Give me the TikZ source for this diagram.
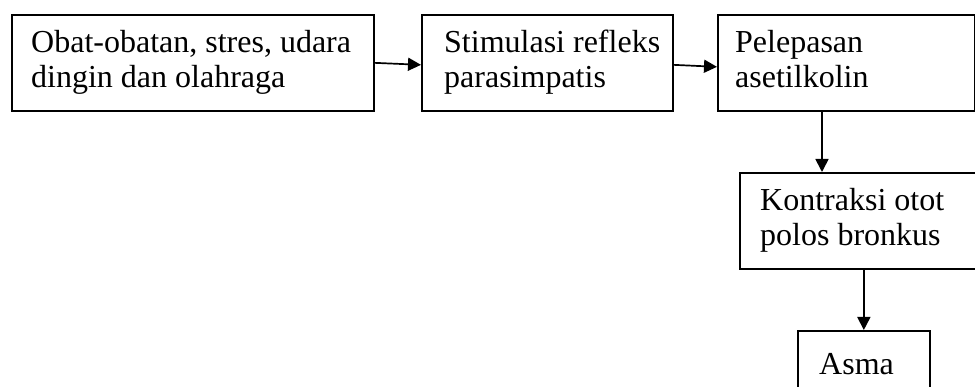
\documentclass[tikz,border=0pt]{standalone}
\usepackage{fontspec}
\setmainfont{Liberation Serif}
\usetikzlibrary{arrows.meta}
\begin{document}
\begin{tikzpicture}[x=1pt,y=-1pt,
  box/.style={draw=black, line width=1.7pt, rectangle, inner sep=0pt, anchor=north west},
  lbl/.style={anchor=base west, inner sep=0pt, font=\fontsize{32pt}{35pt}\selectfont},
  arr/.style={line width=1.7pt, -{Triangle[length=13pt,width=13pt]}}]
\useasboundingbox (0,0) rectangle (975,387);
\clip (0,0) rectangle (975,387);
\fill[white] (0,0) rectangle (975,387);
\node[box, minimum width=362pt, minimum height=96pt] (b1) at (11,14) {};
\node[box, minimum width=251pt, minimum height=96pt] (b2) at (421,14) {};
\node[box, minimum width=257pt, minimum height=96pt] (b3) at (717,14) {};
\node[box, minimum width=245pt, minimum height=96pt] (b4) at (739,172) {};
\node[box, minimum width=132pt, minimum height=90pt] (b5) at (797,330) {};
\node[lbl] (t1) at (31,53) {\vtop{\hbox{Obat-obatan, stres, udara}\hbox{dingin dan olahraga}}};
\node[lbl] (t2) at (444,53) {\vtop{\hbox{Stimulasi refleks}\hbox{parasimpatis}}};
\node[lbl] (t3) at (735,53) {\vtop{\hbox{Pelepasan}\hbox{asetilkolin}}};
\node[lbl] (t4) at (760,211) {\vtop{\hbox{Kontraksi otot}\hbox{polos bronkus}}};
\node[lbl] (t5) at (819,374) {Asma};
\draw[arr] (b1.east) -- ([yshift=-2pt]b2.west);
\draw[arr] ([yshift=-2pt]b2.east) -- ([yshift=-4pt]b3.west);
\draw[arr] (822,0 |- b3.south) -- (822,0 |- b4.north);
\draw[arr] (b5.north |- b4.south) -- (b5.north);
\end{tikzpicture}
\end{document}
